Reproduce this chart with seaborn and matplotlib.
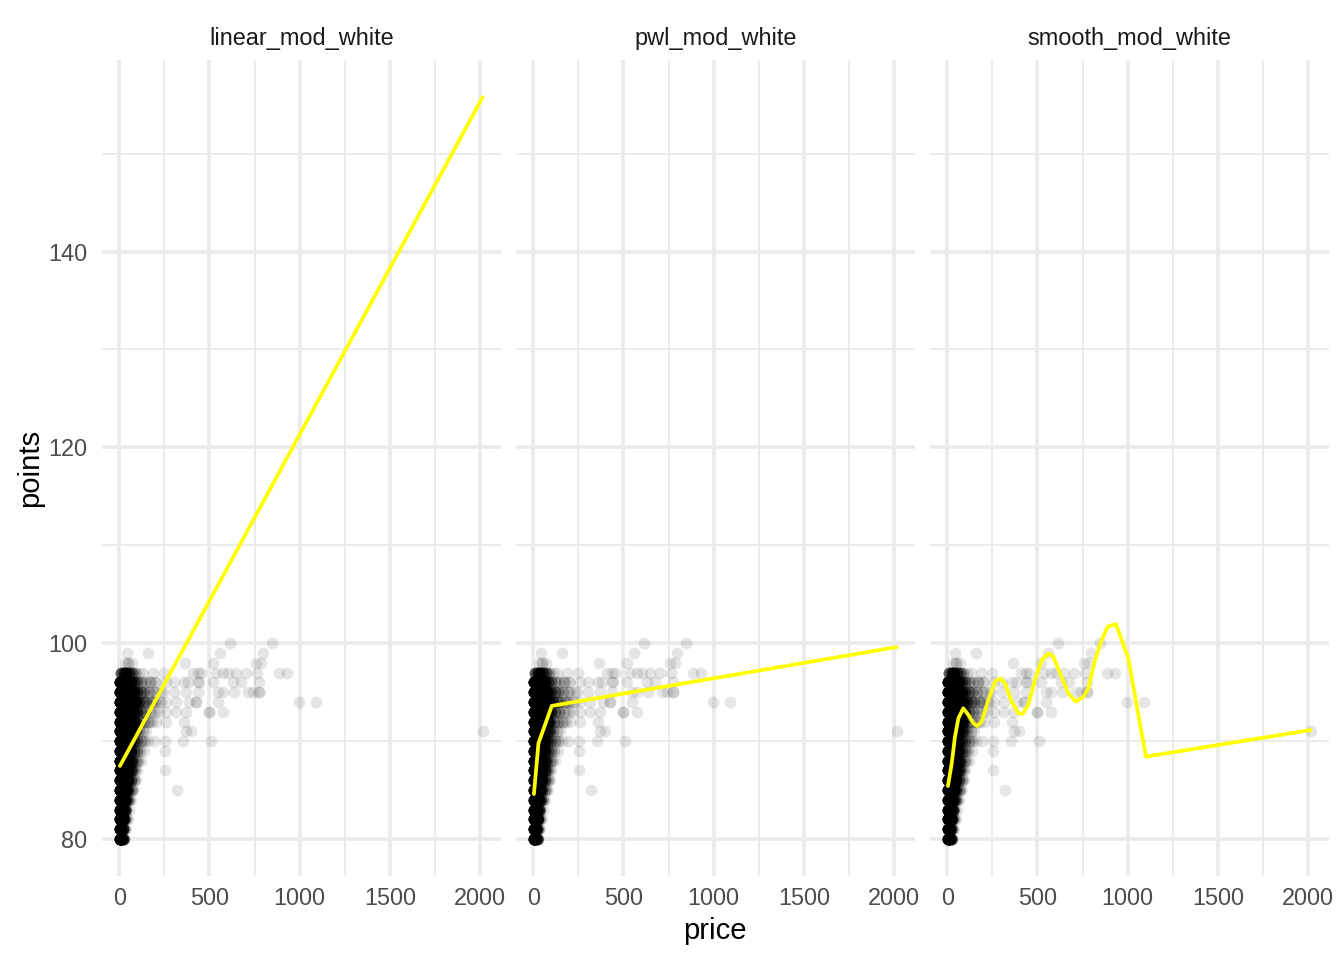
import numpy as np
import pandas as pd
import matplotlib
matplotlib.use("Agg")
import matplotlib.pyplot as plt
import seaborn as sns
from matplotlib.ticker import FixedLocator

sns.set_style("white")
plt.rcParams["font.family"] = ["Liberation Sans", "DejaVu Sans"]

# ---------------- data ----------------
models = ["linear_mod_white", "pwl_mod_white", "smooth_mod_white"]

# dense core of the scatter: one row per score level, prices and overlap counts
core_levels = [80, 81, 82, 83, 84, 85, 86, 87, 88, 89, 90, 91, 92, 93, 94, 95, 96, 97, 98]
core_prices = [
    [4, 12, 20, 28],
    [4, 12, 20, 30],
    [4, 12, 20, 28, 38, 48],
    [4, 12, 20, 30, 40, 52],
    [4, 12, 22, 32, 45, 56, 66],
    [4, 12, 22, 35, 50, 65, 75],
    [4, 12, 22, 35, 50, 65, 80, 95],
    [4, 12, 22, 35, 50, 65, 75, 88, 100],
    [4, 12, 22, 35, 50, 65, 78, 92, 105, 120],
    [4, 12, 22, 35, 50, 65, 80, 100, 115, 135],
    [4, 12, 22, 35, 50, 65, 80, 100, 120, 140, 160],
    [4, 12, 22, 35, 50, 65, 80, 92, 110, 130, 150],
    [4, 12, 22, 35, 50, 65, 80, 95, 115, 135, 160, 180],
    [4, 12, 22, 35, 50, 65, 80, 100, 120, 145, 170, 200],
    [4, 12, 22, 35, 50, 65, 80, 95, 110, 130, 150, 175, 200, 230],
    [4, 12, 22, 35, 50, 65, 80, 100, 120, 140, 165, 195, 230],
    [4, 12, 22, 35, 50, 65, 80, 100, 120, 145, 170, 200],
    [10, 25, 40, 55, 70, 90, 110, 130],
    [30, 50],
]
core_counts = [
    [30, 30, 15, 3],
    [30, 30, 15, 3],
    [30, 30, 25, 12, 3, 1],
    [30, 30, 25, 12, 3, 1],
    [30, 30, 25, 20, 8, 3, 1],
    [30, 30, 25, 20, 10, 4, 2],
    [30, 30, 25, 25, 20, 8, 3, 1],
    [30, 30, 25, 25, 20, 12, 4, 2, 1],
    [30, 30, 25, 25, 20, 15, 5, 3, 2, 1],
    [30, 30, 25, 25, 20, 15, 6, 4, 2, 1],
    [30, 30, 25, 25, 20, 15, 8, 5, 3, 2, 1],
    [30, 30, 25, 25, 25, 20, 10, 6, 3, 2, 1],
    [30, 30, 25, 25, 25, 20, 15, 8, 4, 3, 2, 1],
    [30, 30, 25, 25, 25, 20, 15, 10, 5, 4, 2, 1],
    [30, 30, 25, 25, 25, 25, 20, 12, 8, 5, 4, 3, 2, 1],
    [30, 30, 25, 25, 25, 20, 15, 8, 5, 4, 3, 2, 1],
    [30, 30, 25, 25, 20, 15, 8, 5, 3, 2, 2, 1],
    [9, 12, 12, 10, 6, 3, 1, 1],
    [1, 2],
]

# sparse, expensive wines
out_points = ([100] * 2 + [99] * 4 + [98] * 5 + [97] * 13 + [96] * 12 + [95] * 12 +
              [94] * 10 + [93] * 8 + [92] * 4 + [91] * 3 + [90] * 4 + [89, 87, 85])
out_price = [615, 845,
             44, 158, 560, 799,
             72, 367, 517, 757, 785,
             186, 247, 407, 435, 453, 536, 573, 600, 646, 702, 766, 886, 932,
             168, 204, 260, 306, 361, 380, 435, 444, 517, 628, 674, 775,
             204, 241, 306, 370, 435, 545, 573, 637, 711, 739, 775, 775,
             186, 223, 260, 315, 389, 425, 425, 545, 996, 1088,
             186, 223, 260, 315, 370, 499, 499, 576,
             168, 204, 260, 361,
             370, 398, 2013,
             195, 251, 352, 508,
             251, 251, 319]

# model predictions
linear_price = [4, 2013]
linear_pred = [87.46, 155.76]
pwl_price = [4, 29, 103, 2013]
pwl_pred = [84.6, 89.78, 93.6, 99.6]
smooth_price = [4, 25, 43, 62, 89, 117, 145, 167, 191, 228, 265, 293, 320, 357, 394,
                418, 449, 486, 524, 560, 588, 625, 671, 714, 754, 782, 819, 856, 889,
                935, 1003, 1101, 2013]
smooth_pred = [85.41, 87.73, 90.45, 92.33, 93.35, 92.67, 91.82, 91.54, 91.98, 94.2,
               96.07, 96.41, 95.9, 94.02, 92.84, 92.77, 93.69, 96.24, 98.28, 98.97,
               98.62, 96.93, 94.88, 94.02, 94.54, 95.39, 98.28, 100.33, 101.69,
               101.96, 98.46, 88.41, 91.13]

# ---------------- build tables ----------------
rows_p, rows_s, rows_n = [], [], []
for lvl, prs, cts in zip(core_levels, core_prices, core_counts):
    for p, c in zip(prs, cts):
        rows_p.append(p); rows_s.append(lvl); rows_n.append(c)
for p, s in zip(out_price, out_points):
    rows_p.append(p); rows_s.append(s); rows_n.append(1)
pts = pd.DataFrame({"price": rows_p, "points": rows_s, "n": rows_n})
pts = pts.loc[pts.index.repeat(pts["n"])].reset_index(drop=True)

preds = [
    pd.DataFrame({"price": linear_price, "pred": linear_pred}),
    pd.DataFrame({"price": pwl_price, "pred": pwl_pred}),
    pd.DataFrame({"price": smooth_price, "pred": smooth_pred}),
]

# ---------------- figure ----------------
W, H = 1344, 960
fig = plt.figure(figsize=(W / 100, H / 100), dpi=100)
fig.patch.set_facecolor("white")

lefts = [101.8, 515.8, 929.8]
pw = 398.9
top_px, bot_px = 60, 876

grid_col = "#EBEBEB"
tick_col = "#4D4D4D"
fs_small = 16.9
fs_title = 21.1

for i, (lft, name, pr) in enumerate(zip(lefts, models, preds)):
    ax = fig.add_axes([lft / W, (H - bot_px) / H, pw / W, (bot_px - top_px) / H])
    ax.set_facecolor("white")
    ax.set_xlim(-96.5, 2113.5)
    ax.set_ylim(76.22, 159.57)
    ax.xaxis.set_major_locator(FixedLocator([0, 500, 1000, 1500, 2000]))
    ax.xaxis.set_minor_locator(FixedLocator([250, 750, 1250, 1750]))
    ax.yaxis.set_major_locator(FixedLocator([80, 100, 120, 140]))
    ax.yaxis.set_minor_locator(FixedLocator([90, 110, 130, 150]))
    ax.grid(which="major", color=grid_col, lw=2.73)
    ax.grid(which="minor", color=grid_col, lw=1.37)
    ax.set_axisbelow(True)
    for sp in ax.spines.values():
        sp.set_visible(False)
    ax.tick_params(which="both", length=0)
    ax.tick_params(axis="x", labelsize=fs_small, labelcolor=tick_col, pad=8)
    ax.tick_params(axis="y", labelsize=fs_small, labelcolor=tick_col, pad=10.5)
    if i > 0:
        ax.tick_params(axis="y", labelleft=False)

    sns.scatterplot(data=pts, x="price", y="points", ax=ax, color="black",
                    alpha=0.1, s=72, linewidth=0, legend=False)
    sns.lineplot(data=pr, x="price", y="pred", ax=ax, color="#FFFF00",
                 lw=2.7, estimator=None, sort=False, solid_joinstyle="round")
    ax.set_xlabel("")
    ax.set_ylabel("")

    fig.text((lft + pw / 2) / W, 1 - 38 / H, name, ha="center", va="center",
             fontsize=fs_small, color="#1A1A1A")

fig.text(715 / W, 1 - 931 / H, "price", ha="center", va="center",
         fontsize=fs_title, color="black")
fig.text(30 / W, 1 - 468 / H, "points", ha="center", va="center",
         fontsize=fs_title, color="black", rotation=90)

fig.savefig("out.png", dpi=100, facecolor="white")
